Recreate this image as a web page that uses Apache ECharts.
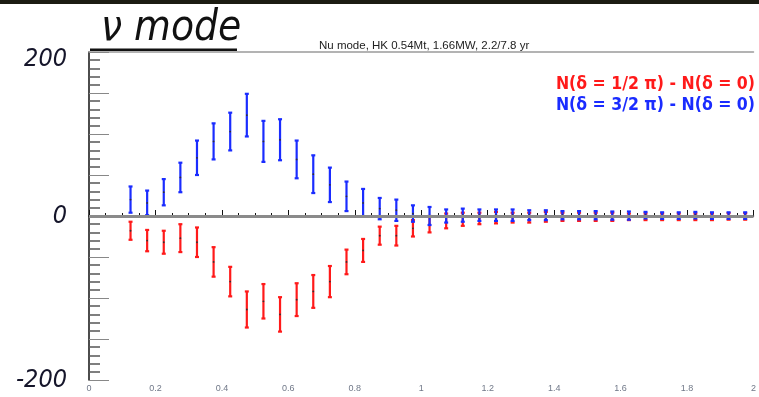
<!DOCTYPE html>
<html>
<head>
<meta charset="utf-8">
<script src="https://cdn.jsdelivr.net/npm/echarts@6/dist/echarts.min.js"></script>
<style>
  html, body { margin: 0; padding: 0; background: #fff; }
  #chart { width: 759px; height: 397px; }
</style>
</head>
<body>
<div id="chart"></div>
<script>
// Reconstructed-energy bin centres (GeV)
const binCenters = [0.125, 0.175, 0.225, 0.275, 0.325, 0.375, 0.425, 0.475, 0.525, 0.575,
  0.625, 0.675, 0.725, 0.775, 0.825, 0.875, 0.925, 0.975, 1.025, 1.075,
  1.125, 1.175, 1.225, 1.275, 1.325, 1.375, 1.425, 1.475, 1.525, 1.575,
  1.625, 1.675, 1.725, 1.775, 1.825, 1.875, 1.925, 1.975];

// N(delta = 3/2 pi) - N(delta = 0)
const diff32 = [20, 16, 29, 47, 71, 91, 103, 123, 91, 93,
  69, 51, 38, 24, 16, 9, 7, 3, 0, 0,
  1, 1, 1, 1, 1, 1, 1, 1, 1, 0.5,
  0.5, 1, 0.5, 0.5, 1, 0.5, 0.5, 0.5];
const err32 = [16, 15, 16, 18, 21, 22, 23, 26, 25, 25,
  23, 23, 21, 18, 17, 13, 13, 10, 11, 8,
  8, 7, 7, 7, 6, 6, 5, 5, 5, 5,
  5, 4, 4, 4, 4, 4, 4, 4];

// N(delta = 1/2 pi) - N(delta = 0)
const diff12 = [-18, -30, -32, -27, -32, -56, -80, -114, -104, -120,
  -102, -92, -80, -56, -42, -24, -24, -15, -10, -6,
  -4, -3, -2, -2, -2, -1, -1, -1, -1, -1,
  -1, -1, -1, -1, -1, -1, -0.5, -0.5];
const err12 = [11, 13, 14, 17, 18, 18, 18, 22, 21, 21,
  20, 20, 19, 15, 14, 11, 12, 10, 10, 9,
  8, 7, 7, 6, 6, 6, 5, 5, 5, 5,
  4, 4, 4, 4, 4, 4, 4, 4];

const yLabelValues = [-200, 0, 200];
const titleText = 'ν mode';
const subText = 'Nu mode, HK 0.54Mt, 1.66MW, 2.2/7.8 yr';
const legend12 = 'N(δ = 1/2 π) - N(δ = 0)';
const legend32 = 'N(δ = 3/2 π) - N(δ = 0)';

const RED = '#ff1a1a';
const BLUE = '#1a2cff';
const CONDENSED = "'DejaVu Sans Condensed', 'Liberation Sans', sans-serif";

function buildData(vals, errs) {
  return binCenters.map((x, i) => [x, vals[i], errs[i]]);
}

function errorBar(color) {
  return function (params, api) {
    const x = api.value(0), v = api.value(1), e = api.value(2);
    const top = api.coord([x, v + e]);
    const bot = api.coord([x, v - e]);
    const mid = api.coord([x, v]);
    const cap = 2;
    const st = { stroke: color, lineWidth: 2.2 };
    return {
      type: 'group',
      children: [
        { type: 'line', shape: { x1: top[0], y1: top[1], x2: bot[0], y2: bot[1] }, style: st },
        { type: 'line', shape: { x1: top[0] - cap, y1: top[1], x2: top[0] + cap, y2: top[1] }, style: st },
        { type: 'line', shape: { x1: bot[0] - cap, y1: bot[1], x2: bot[0] + cap, y2: bot[1] }, style: st },
        { type: 'circle', shape: { cx: mid[0], cy: mid[1], r: 0.9 }, style: { fill: '#333' } }
      ]
    };
  };
}

const chart = echarts.init(document.getElementById('chart'));
chart.setOption({
  animation: false,
  backgroundColor: '#fff',
  title: [
    {
      text: titleText, left: 96, top: 3,
      textStyle: { fontSize: 42, fontStyle: 'italic', fontWeight: 'normal', color: '#111', fontFamily: CONDENSED }
    },
    {
      text: subText, left: 314, top: 35,
      textStyle: { fontSize: 11.5, fontWeight: 'normal', color: '#222', fontFamily: 'Liberation Sans, Arial, sans-serif' }
    }
  ],
  grid: { left: 89, right: 0, top: 52, bottom: 17 },
  xAxis: [
    {
      type: 'value', min: 0, max: 2, interval: 0.2,
      axisLine: { lineStyle: { color: '#111', width: 1.5 } },
      axisTick: { inside: true, length: 6, lineStyle: { color: '#111' } },
      minorTick: { show: true, splitNumber: 4, length: 3, lineStyle: { color: '#111' } },
      splitLine: { show: false },
      axisLabel: { fontSize: 9, color: '#707888', margin: 4, fontFamily: 'Liberation Sans, Arial, sans-serif' }
    },
    {
      type: 'value', min: 0, max: 2, position: 'top',
      axisLine: { lineStyle: { color: '#9a9a9a', width: 1.5 } },
      axisTick: { show: false }, axisLabel: { show: false }, splitLine: { show: false }
    }
  ],
  yAxis: {
    type: 'value', min: -200, max: 200, interval: 50,
    axisLine: { show: true, lineStyle: { color: '#111', width: 1.5 } },
    axisTick: { show: true, inside: true, length: 20, lineStyle: { color: '#888' } },
    minorTick: { show: true, splitNumber: 5, length: 11, lineStyle: { color: '#555', width: 1.5 } },
    splitLine: { show: false },
    axisLabel: {
      margin: 22,
      fontSize: 25, fontStyle: 'italic', color: '#15152a', fontFamily: CONDENSED,
      formatter: v => {
        if (yLabelValues.indexOf(v) < 0) return '';
        return v === 200 ? '{top|' + v + '}' : String(v);
      },
      rich: {
        top: { fontSize: 25, fontStyle: 'italic', color: '#15152a', fontFamily: CONDENSED, padding: [14, 0, 0, 0] }
      }
    }
  },
  graphic: [
    { type: 'rect', left: 0, top: 0, shape: { width: 759, height: 4 }, style: { fill: '#1c1c12' } },
    { type: 'rect', left: 90, top: 48.5, shape: { width: 147, height: 2.5 }, style: { fill: '#111' } },
    {
      type: 'text', right: 4, top: 75,
      style: { text: legend12, fill: RED, font: 'bold 17.5px ' + CONDENSED }
    },
    {
      type: 'text', right: 4, top: 96,
      style: { text: legend32, fill: BLUE, font: 'bold 17.5px ' + CONDENSED }
    }
  ],
  series: [
    {
      type: 'custom', name: legend12,
      renderItem: errorBar(RED),
      data: buildData(diff12, err12),
      markLine: {
        silent: true, symbol: 'none', label: { show: false },
        lineStyle: { color: '#8a8a8a', width: 3, type: 'solid' },
        data: [{ yAxis: 0 }]
      },
      z: 3
    },
    {
      type: 'custom', name: legend32,
      renderItem: errorBar(BLUE),
      data: buildData(diff32, err32),
      z: 4
    }
  ]
});
</script>
</body>
</html>
